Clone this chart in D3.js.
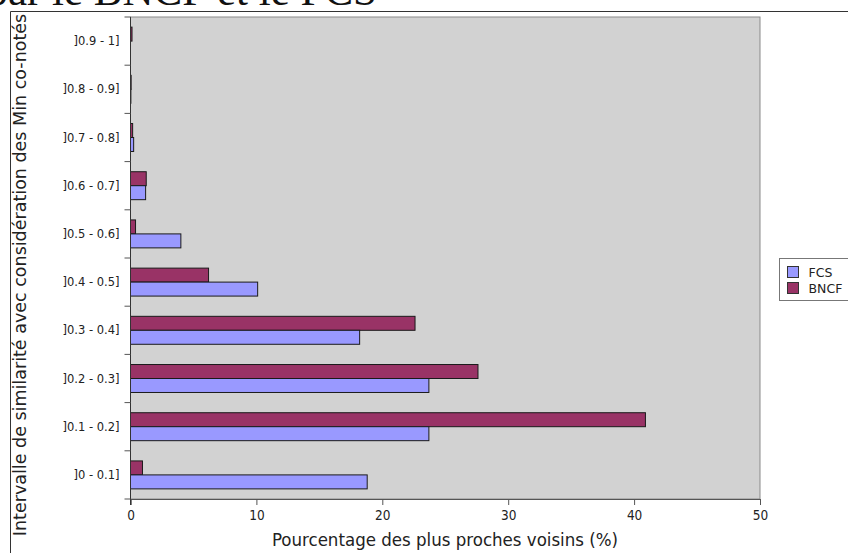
<!DOCTYPE html>
<html>
<head>
<meta charset="utf-8">
<script src="https://cdn.jsdelivr.net/npm/d3@7"></script>
<style>
  html, body { margin: 0; padding: 0; background: #fff; }
  svg { display: block; }
  text { font-family: "DejaVu Sans", sans-serif; fill: #222; }
</style>
</head>
<body>
<svg id="chart" width="848" height="553"></svg>
<script>
// Similarity intervals, listed from the top of the chart downwards
const categories = [
  "]0.9 - 1]", "]0.8 - 0.9]", "]0.7 - 0.8]", "]0.6 - 0.7]", "]0.5 - 0.6]",
  "]0.4 - 0.5]", "]0.3 - 0.4]", "]0.2 - 0.3]", "]0.1 - 0.2]", "]0 - 0.1]"
];
const seriesNames = ["BNCF", "FCS"];
const bncfValues = [0.12, 0.05, 0.17, 1.25, 0.4, 6.2, 22.6, 27.6, 40.9, 0.95];
const fcsValues  = [0.0, 0.03, 0.25, 1.2, 4.0, 10.1, 18.2, 23.7, 23.7, 18.8];
const xTicks = [0, 10, 20, 30, 40, 50];
const legendOrder = ["FCS", "BNCF"];
const colors = { FCS: "#9999ff", BNCF: "#993366" };

const svg = d3.select("#chart");

// Page frame and the document heading running above the chart
svg.append("text")
  .attr("x", 377).attr("y", 5)
  .attr("text-anchor", "end")
  .style("font-family", "'Liberation Serif', 'DejaVu Serif', serif")
  .style("font-size", "43px")
  .style("fill", "#111")
  .text("par le BNCF et le FCS");
svg.append("path")
  .attr("d", "M10.5,553 V11.5 H848")
  .attr("fill", "none").attr("stroke", "#333").attr("stroke-width", 1);

const plot = { left: 130.5, right: 760, top: 17, bottom: 499 };

const x = d3.scaleLinear().domain([0, 50]).range([plot.left, plot.right]);
const y = d3.scaleBand().domain(categories)
  .range([plot.top, plot.bottom]).paddingInner(0.42).paddingOuter(0.21);
const ySub = d3.scaleBand().domain(seriesNames).range([0, y.bandwidth()]);

// Plot background
svg.append("rect")
  .attr("x", plot.left).attr("y", plot.top)
  .attr("width", plot.right - plot.left).attr("height", plot.bottom - plot.top)
  .attr("fill", "#d2d2d2").attr("stroke", "#8a8a8a").attr("stroke-width", 1);

// Bars
const rows = categories.map((c, i) => ({ cat: c, BNCF: bncfValues[i], FCS: fcsValues[i] }));
const groups = svg.append("g").selectAll("g").data(rows).join("g")
  .attr("transform", d => `translate(0,${y(d.cat)})`);
groups.selectAll("rect")
  .data(d => seriesNames.map(s => ({ s, v: d[s] })).filter(e => e.v > 0))
  .join("rect")
  .attr("x", x(0))
  .attr("y", e => ySub(e.s))
  .attr("width", e => x(e.v) - x(0))
  .attr("height", ySub.bandwidth())
  .attr("fill", e => colors[e.s])
  .attr("stroke", "#1a1a1a").attr("stroke-width", 1);

// Axes
const xAxis = d3.axisBottom(x).tickValues(xTicks).tickSize(6).tickPadding(5);
const gx = svg.append("g").attr("transform", `translate(0,${plot.bottom})`).call(xAxis);
gx.select(".domain").attr("stroke", "#555");
gx.selectAll(".tick line").attr("stroke", "#555");
gx.selectAll("text").style("font-size", "13.5px").style("fill", "#222")
  .style("font-family", "'DejaVu Sans Condensed', 'DejaVu Sans', sans-serif");

// Category axis: ticks sit on band boundaries, labels centred in each band
const gy = svg.append("g");
gy.append("line")
  .attr("x1", plot.left).attr("x2", plot.left)
  .attr("y1", plot.top).attr("y2", plot.bottom + 6)
  .attr("stroke", "#333");
const step = y.step();
gy.selectAll("line.tick").data(d3.range(categories.length + 1)).join("line")
  .attr("class", "tick")
  .attr("x1", plot.left - 6).attr("x2", plot.left)
  .attr("y1", i => plot.top + i * step).attr("y2", i => plot.top + i * step)
  .attr("stroke", "#555");
gy.selectAll("text").data(categories).join("text")
  .attr("x", plot.left - 11)
  .attr("y", c => y(c) + y.bandwidth() / 2)
  .attr("dy", "0.35em")
  .attr("text-anchor", "end")
  .style("font-size", "11.5px")
  .text(c => c);

// Axis titles
svg.append("text")
  .attr("x", 445).attr("y", 546)
  .attr("text-anchor", "middle")
  .style("font-family", "'DejaVu Sans Condensed', 'DejaVu Sans', sans-serif")
  .style("font-size", "18.5px")
  .text("Pourcentage des plus proches  voisins (%)");
svg.append("text")
  .attr("transform", "translate(26,275) rotate(-90)")
  .attr("text-anchor", "middle")
  .style("font-size", "17.5px")
  .text("Intervalle de similarité avec considération des Min co-notés");

// Legend
const legend = svg.append("g").attr("transform", "translate(779.5,258.5)");
legend.append("rect").attr("width", 80).attr("height", 42)
  .attr("fill", "#fff").attr("stroke", "#777");
legendOrder.forEach((s, i) => {
  legend.append("rect")
    .attr("x", 8).attr("y", 8 + i * 16)
    .attr("width", 11).attr("height", 11)
    .attr("fill", colors[s]).attr("stroke", "#333");
  legend.append("text")
    .attr("x", 29).attr("y", 14 + i * 16)
    .attr("dy", "0.35em")
    .style("font-size", "12.5px")
    .text(s);
});
</script>
</body>
</html>
